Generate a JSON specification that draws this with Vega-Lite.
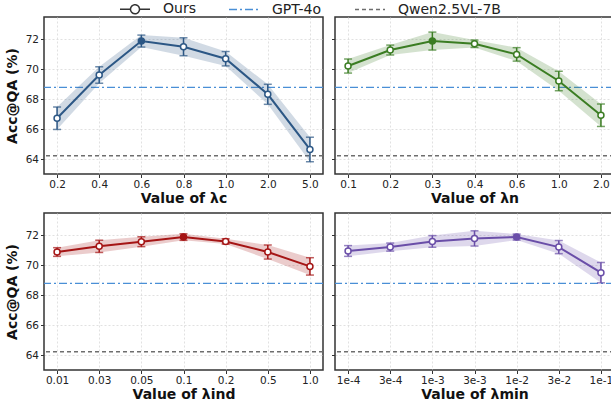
{
  "$schema": "https://vega.github.io/schema/vega-lite/v6.json",
  "padding": {"left": 4, "top": -7, "right": 0, "bottom": 0},
  "background": "white",
  "config": {
    "font": "DejaVu Sans",
    "view": {"stroke": "#333333", "strokeWidth": 1.5},
    "axis": {
      "labelFont": "DejaVu Sans", "labelFontSize": 10.5, "labelColor": "#222222",
      "titleFont": "DejaVu Sans", "titleFontSize": 14, "titleFontWeight": "bold", "titleColor": "#111111",
      "grid": true, "gridDash": [2, 2], "gridColor": "#d9d9d9", "gridWidth": 0.8,
      "domain": false, "tickColor": "#333333", "tickSize": 3.5, "tickWidth": 1,
      "labelPadding": 2, "labelOverlap": false
    },
    "axisX": {"titlePadding": 1},
    "axisY": {"titlePadding": 6},
    "legend": {"labelFont": "DejaVu Sans", "labelFontSize": 14, "labelColor": "#222222"}
  },
  "datasets": {
    "c": [
      {"x": "0.2", "acc": 66.73, "lo": 65.98, "hi": 67.48, "best": false},
      {"x": "0.4", "acc": 69.62, "lo": 69.07, "hi": 70.17, "best": false},
      {"x": "0.6", "acc": 71.89, "lo": 71.49, "hi": 72.29, "best": true},
      {"x": "0.8", "acc": 71.51, "lo": 70.91, "hi": 72.11, "best": false},
      {"x": "1.0", "acc": 70.71, "lo": 70.23, "hi": 71.19, "best": false},
      {"x": "2.0", "acc": 68.33, "lo": 67.66, "hi": 69.0, "best": false},
      {"x": "5.0", "acc": 64.64, "lo": 63.82, "hi": 65.46, "best": false}
    ],
    "n": [
      {"x": "0.1", "acc": 70.22, "lo": 69.75, "hi": 70.69, "best": false},
      {"x": "0.2", "acc": 71.29, "lo": 70.96, "hi": 71.62, "best": false},
      {"x": "0.3", "acc": 71.89, "lo": 71.29, "hi": 72.49, "best": true},
      {"x": "0.4", "acc": 71.71, "lo": 71.46, "hi": 71.96, "best": false},
      {"x": "0.6", "acc": 71.0, "lo": 70.55, "hi": 71.45, "best": false},
      {"x": "1.0", "acc": 69.22, "lo": 68.57, "hi": 69.87, "best": false},
      {"x": "2.0", "acc": 66.93, "lo": 66.18, "hi": 67.68, "best": false}
    ],
    "ind": [
      {"x": "0.01", "acc": 70.89, "lo": 70.6, "hi": 71.18, "best": false},
      {"x": "0.03", "acc": 71.27, "lo": 70.86, "hi": 71.68, "best": false},
      {"x": "0.05", "acc": 71.58, "lo": 71.25, "hi": 71.91, "best": false},
      {"x": "0.1", "acc": 71.89, "lo": 71.67, "hi": 72.11, "best": true},
      {"x": "0.2", "acc": 71.6, "lo": 71.42, "hi": 71.78, "best": false},
      {"x": "0.5", "acc": 70.89, "lo": 70.42, "hi": 71.36, "best": false},
      {"x": "1.0", "acc": 69.93, "lo": 69.35, "hi": 70.51, "best": false}
    ],
    "min": [
      {"x": "1e-4", "acc": 70.96, "lo": 70.6, "hi": 71.32, "best": false},
      {"x": "3e-4", "acc": 71.22, "lo": 70.95, "hi": 71.49, "best": false},
      {"x": "1e-3", "acc": 71.6, "lo": 71.21, "hi": 71.99, "best": false},
      {"x": "3e-3", "acc": 71.8, "lo": 71.29, "hi": 72.31, "best": false},
      {"x": "1e-2", "acc": 71.89, "lo": 71.69, "hi": 72.09, "best": true},
      {"x": "3e-2", "acc": 71.22, "lo": 70.78, "hi": 71.66, "best": false},
      {"x": "1e-1", "acc": 69.51, "lo": 68.83, "hi": 70.19, "best": false}
    ],
    "refs": [
      {"series": "GPT-4o", "value": 68.8},
      {"series": "Qwen2.5VL-7B", "value": 64.22}
    ]
  },
  "vconcat": [
    {
      "hconcat": [
        {
          "width": 279, "height": 157,
          "data": {"name": "c"},
          "layer": [
            {"data": {"name": "refs"}, "mark": {"type": "rule", "strokeWidth": 1.3},
             "encoding": {
               "y": {"field": "value", "type": "quantitative", "title": "Acc@QA (%)", "scale": {"domain": [63, 73.5], "nice": false, "zero": false}, "axis": {"title": "Acc@QA (%)", "values": [64, 66, 68, 70, 72], "labelOverlap": false}},
               "color": {"field": "series", "type": "nominal", "title": null,
                 "scale": {"domain": ["Ours", "GPT-4o", "Qwen2.5VL-7B"], "range": ["#333333", "#4a8fd6", "#6e6e6e"]},
                 "legend": {"orient": "none", "direction": "horizontal", "legendX": 75, "legendY": -24,
                   "symbolType": "stroke", "symbolSize": 900, "symbolStrokeWidth": 1.5, "labelOffset": 12, "columnPadding": 30,
                   "encode": {"symbols": {"update": {"shape": {"signal": "datum.value === 'Ours' ? 'M-1,0L-0.3,0M0.3,0L1,0M0.3,0A0.3,0.3,0,1,1,-0.3,0A0.3,0.3,0,1,1,0.3,0' : 'stroke'"}}}}}},
               "strokeDash": {"field": "series", "type": "nominal", "title": null,
                 "scale": {"domain": ["Ours", "GPT-4o", "Qwen2.5VL-7B"], "range": [[1, 0], [8, 3, 2, 3], [4, 3]]}}
             }},
            {"mark": {"type": "area", "color": "#2c5785", "opacity": 0.22},
             "encoding": {
               "x": {"field": "x", "type": "ordinal", "sort": null, "scale": {"type": "point", "padding": 0.31},
                 "axis": {"title": "Value of λc", "labelAngle": 0}},
               "y": {"field": "lo", "type": "quantitative", "title": "Acc@QA (%)", "axis": {"title": "Acc@QA (%)", "values": [64, 66, 68, 70, 72], "labelOverlap": false}},
               "y2": {"field": "hi"}
             }},
            {"mark": {"type": "line", "color": "#2c5785", "strokeWidth": 2},
             "encoding": {"x": {"field": "x", "type": "ordinal", "sort": null}, "y": {"field": "acc", "type": "quantitative", "title": "Acc@QA (%)", "axis": {"title": "Acc@QA (%)", "values": [64, 66, 68, 70, 72], "labelOverlap": false}}}},
            {"mark": {"type": "errorbar", "color": "#2c5785", "ticks": {"size": 8}, "thickness": 1.5},
             "encoding": {"x": {"field": "x", "type": "ordinal", "sort": null}, "y": {"field": "lo", "type": "quantitative", "title": "Acc@QA (%)", "axis": {"title": "Acc@QA (%)", "values": [64, 66, 68, 70, 72], "labelOverlap": false}}, "y2": {"field": "hi"}}},
            {"mark": {"type": "point", "shape": "circle", "size": 36, "strokeWidth": 1.5, "color": "#2c5785", "opacity": 1},
             "encoding": {"x": {"field": "x", "type": "ordinal", "sort": null}, "y": {"field": "acc", "type": "quantitative", "title": "Acc@QA (%)", "axis": {"title": "Acc@QA (%)", "values": [64, 66, 68, 70, 72], "labelOverlap": false}},
               "fill": {"condition": {"test": "datum.best", "value": "#2c5785"}, "value": "white"}}}
          ]
        },
        {
          "width": 279, "height": 157,
          "data": {"name": "n"},
          "layer": [
            {"data": {"name": "refs"}, "mark": {"type": "rule", "strokeWidth": 1.3},
             "encoding": {
               "y": {"field": "value", "type": "quantitative", "title": null, "scale": {"domain": [63, 73.5], "nice": false, "zero": false}, "axis": {"title": null, "labels": false, "values": [64, 66, 68, 70, 72]}},
               "color": {"field": "series", "type": "nominal", "legend": null,
                 "scale": {"domain": ["Ours", "GPT-4o", "Qwen2.5VL-7B"], "range": ["#333333", "#4a8fd6", "#6e6e6e"]}},
               "strokeDash": {"field": "series", "type": "nominal", "legend": null,
                 "scale": {"domain": ["Ours", "GPT-4o", "Qwen2.5VL-7B"], "range": [[1, 0], [8, 3, 2, 3], [4, 3]]}}
             }},
            {"mark": {"type": "area", "color": "#3b7d23", "opacity": 0.22},
             "encoding": {
               "x": {"field": "x", "type": "ordinal", "sort": null, "scale": {"type": "point", "padding": 0.31},
                 "axis": {"title": "Value of λn", "labelAngle": 0}},
               "y": {"field": "lo", "type": "quantitative", "title": null, "axis": {"title": null, "labels": false, "values": [64, 66, 68, 70, 72]}},
               "y2": {"field": "hi"}
             }},
            {"mark": {"type": "line", "color": "#3b7d23", "strokeWidth": 2},
             "encoding": {"x": {"field": "x", "type": "ordinal", "sort": null}, "y": {"field": "acc", "type": "quantitative", "title": null, "axis": {"title": null, "labels": false, "values": [64, 66, 68, 70, 72]}}}},
            {"mark": {"type": "errorbar", "color": "#3b7d23", "ticks": {"size": 8}, "thickness": 1.5},
             "encoding": {"x": {"field": "x", "type": "ordinal", "sort": null}, "y": {"field": "lo", "type": "quantitative", "title": null, "axis": {"title": null, "labels": false, "values": [64, 66, 68, 70, 72]}}, "y2": {"field": "hi"}}},
            {"mark": {"type": "point", "shape": "circle", "size": 36, "strokeWidth": 1.5, "color": "#3b7d23", "opacity": 1},
             "encoding": {"x": {"field": "x", "type": "ordinal", "sort": null}, "y": {"field": "acc", "type": "quantitative", "title": null, "axis": {"title": null, "labels": false, "values": [64, 66, 68, 70, 72]}},
               "fill": {"condition": {"test": "datum.best", "value": "#3b7d23"}, "value": "white"}}}
          ]
        }
      ],
      "spacing": 5
    },
    {
      "hconcat": [
        {
          "width": 279, "height": 157,
          "data": {"name": "ind"},
          "layer": [
            {"data": {"name": "refs"}, "mark": {"type": "rule", "strokeWidth": 1.3},
             "encoding": {
               "y": {"field": "value", "type": "quantitative", "title": "Acc@QA (%)", "scale": {"domain": [63, 73.5], "nice": false, "zero": false}, "axis": {"title": "Acc@QA (%)", "values": [64, 66, 68, 70, 72], "labelOverlap": false}},
               "color": {"field": "series", "type": "nominal", "legend": null,
                 "scale": {"domain": ["Ours", "GPT-4o", "Qwen2.5VL-7B"], "range": ["#333333", "#4a8fd6", "#6e6e6e"]}},
               "strokeDash": {"field": "series", "type": "nominal", "legend": null,
                 "scale": {"domain": ["Ours", "GPT-4o", "Qwen2.5VL-7B"], "range": [[1, 0], [8, 3, 2, 3], [4, 3]]}}
             }},
            {"mark": {"type": "area", "color": "#a51515", "opacity": 0.22},
             "encoding": {
               "x": {"field": "x", "type": "ordinal", "sort": null, "scale": {"type": "point", "padding": 0.31},
                 "axis": {"title": "Value of λind", "labelAngle": 0}},
               "y": {"field": "lo", "type": "quantitative", "title": "Acc@QA (%)", "axis": {"title": "Acc@QA (%)", "values": [64, 66, 68, 70, 72], "labelOverlap": false}},
               "y2": {"field": "hi"}
             }},
            {"mark": {"type": "line", "color": "#a51515", "strokeWidth": 2},
             "encoding": {"x": {"field": "x", "type": "ordinal", "sort": null}, "y": {"field": "acc", "type": "quantitative", "title": "Acc@QA (%)", "axis": {"title": "Acc@QA (%)", "values": [64, 66, 68, 70, 72], "labelOverlap": false}}}},
            {"mark": {"type": "errorbar", "color": "#a51515", "ticks": {"size": 8}, "thickness": 1.5},
             "encoding": {"x": {"field": "x", "type": "ordinal", "sort": null}, "y": {"field": "lo", "type": "quantitative", "title": "Acc@QA (%)", "axis": {"title": "Acc@QA (%)", "values": [64, 66, 68, 70, 72], "labelOverlap": false}}, "y2": {"field": "hi"}}},
            {"mark": {"type": "point", "shape": "circle", "size": 36, "strokeWidth": 1.5, "color": "#a51515", "opacity": 1},
             "encoding": {"x": {"field": "x", "type": "ordinal", "sort": null}, "y": {"field": "acc", "type": "quantitative", "title": "Acc@QA (%)", "axis": {"title": "Acc@QA (%)", "values": [64, 66, 68, 70, 72], "labelOverlap": false}},
               "fill": {"condition": {"test": "datum.best", "value": "#a51515"}, "value": "white"}}}
          ]
        },
        {
          "width": 279, "height": 157,
          "data": {"name": "min"},
          "layer": [
            {"data": {"name": "refs"}, "mark": {"type": "rule", "strokeWidth": 1.3},
             "encoding": {
               "y": {"field": "value", "type": "quantitative", "title": null, "scale": {"domain": [63, 73.5], "nice": false, "zero": false}, "axis": {"title": null, "labels": false, "values": [64, 66, 68, 70, 72]}},
               "color": {"field": "series", "type": "nominal", "legend": null,
                 "scale": {"domain": ["Ours", "GPT-4o", "Qwen2.5VL-7B"], "range": ["#333333", "#4a8fd6", "#6e6e6e"]}},
               "strokeDash": {"field": "series", "type": "nominal", "legend": null,
                 "scale": {"domain": ["Ours", "GPT-4o", "Qwen2.5VL-7B"], "range": [[1, 0], [8, 3, 2, 3], [4, 3]]}}
             }},
            {"mark": {"type": "area", "color": "#6a4ea8", "opacity": 0.22},
             "encoding": {
               "x": {"field": "x", "type": "ordinal", "sort": null, "scale": {"type": "point", "padding": 0.31},
                 "axis": {"title": "Value of λmin", "labelAngle": 0}},
               "y": {"field": "lo", "type": "quantitative", "title": null, "axis": {"title": null, "labels": false, "values": [64, 66, 68, 70, 72]}},
               "y2": {"field": "hi"}
             }},
            {"mark": {"type": "line", "color": "#6a4ea8", "strokeWidth": 2},
             "encoding": {"x": {"field": "x", "type": "ordinal", "sort": null}, "y": {"field": "acc", "type": "quantitative", "title": null, "axis": {"title": null, "labels": false, "values": [64, 66, 68, 70, 72]}}}},
            {"mark": {"type": "errorbar", "color": "#6a4ea8", "ticks": {"size": 8}, "thickness": 1.5},
             "encoding": {"x": {"field": "x", "type": "ordinal", "sort": null}, "y": {"field": "lo", "type": "quantitative", "title": null, "axis": {"title": null, "labels": false, "values": [64, 66, 68, 70, 72]}}, "y2": {"field": "hi"}}},
            {"mark": {"type": "point", "shape": "circle", "size": 36, "strokeWidth": 1.5, "color": "#6a4ea8", "opacity": 1},
             "encoding": {"x": {"field": "x", "type": "ordinal", "sort": null}, "y": {"field": "acc", "type": "quantitative", "title": null, "axis": {"title": null, "labels": false, "values": [64, 66, 68, 70, 72]}},
               "fill": {"condition": {"test": "datum.best", "value": "#6a4ea8"}, "value": "white"}}}
          ]
        }
      ],
      "spacing": 5
    }
  ],
  "spacing": 6
}
